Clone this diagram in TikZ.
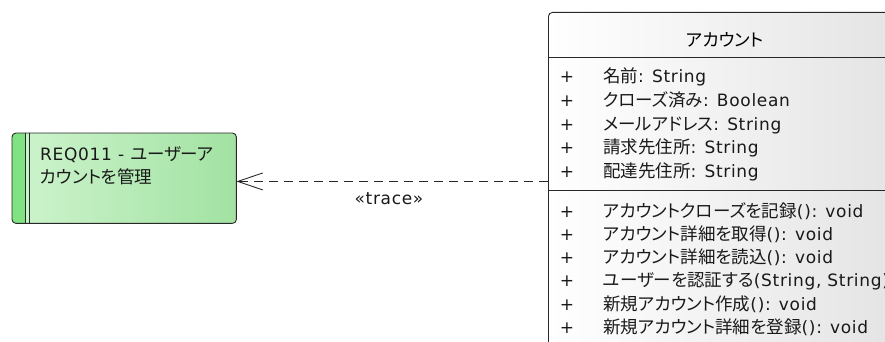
\documentclass[tikz,border=0pt]{standalone}
\usepackage{fontspec}
\setmainfont[LetterSpace=4]{DejaVu Sans}
\newfontfamily\jpfont[RawFeature=+palt]{Noto Sans CJK JP}
\usetikzlibrary{arrows.meta}
\newcommand\jp[1]{{\jpfont\fontsize{17.5}{20}\selectfont #1}}
\newcommand\latsize{\fontsize{17}{20}\selectfont}
\definecolor{reqL}{RGB}{206,244,206}
\definecolor{reqR}{RGB}{162,226,162}
\definecolor{barG}{RGB}{128,226,128}
\definecolor{lineC}{RGB}{40,40,40}
\begin{document}
\begin{tikzpicture}[x=1pt,y=-1pt,
  txt/.style={anchor=base west, inner sep=0pt, font=\latsize, text=black!90},
  plus/.style={anchor=base, inner sep=0pt, font=\latsize, text=black!90},
  border/.style={draw=lineC, line width=0.9pt},
  trace/.style={draw=lineC, line width=0.9pt, dash pattern=on 9pt off 6pt}
]
\useasboundingbox (0,0) rectangle (885,342);
% class box
\node[border, rounded corners=4pt, left color=white, right color=black!11,
      anchor=north west, minimum width=360pt, minimum height=338pt, inner sep=0pt] (cls) at (548,12) {};
\draw[border] (548,57) -- (910,57);
\draw[border] (548,190) -- (910,190);
\node[inner sep=0pt, anchor=base] (title) at (725,46.5) {\jp{アカウント}};
% attributes
\node[plus] (pa1) at (567,83) {+};
\node[txt] (a1) at (603,83) {\jp{名前}: String};
\node[plus] (pa2) at (567,106.5) {+};
\node[txt] (a2) at (603,106.5) {\jp{クローズ済み}: Boolean};
\node[plus] (pa3) at (567,130) {+};
\node[txt] (a3) at (603,130) {\jp{メールアドレス}: String};
\node[plus] (pa4) at (567,153.5) {+};
\node[txt] (a4) at (603,153.5) {\jp{請求先住所}: String};
\node[plus] (pa5) at (567,177) {+};
\node[txt] (a5) at (603,177) {\jp{配達先住所}: String};
% operations
\node[plus] (pm1) at (567,217) {+};
\node[txt] (m1) at (603,217) {\jp{アカウントクローズを記録}(): void};
\node[plus] (pm2) at (567,240.3) {+};
\node[txt] (m2) at (603,240.3) {\jp{アカウント詳細を取得}(): void};
\node[plus] (pm3) at (567,263.6) {+};
\node[txt] (m3) at (603,263.6) {\jp{アカウント詳細を読込}(): void};
\node[plus] (pm4) at (567,286.9) {+};
\node[txt] (m4) at (603,286.9) {\jp{ユーザーを認証する}(String, String)};
\node[plus] (pm5) at (567,310.2) {+};
\node[txt] (m5) at (603,310.2) {\jp{新規アカウント作成}(): void};
\node[plus] (pm6) at (567,333.5) {+};
\node[txt] (m6) at (603,333.5) {\jp{新規アカウント詳細を登録}(): void};
% requirement
\node[rounded corners=4pt, left color=reqL, right color=reqR,
      anchor=north west, minimum width=224pt, minimum height=90pt, inner sep=0pt] (req) at (12,133) {};
\begin{scope}
  \clip[rounded corners=4pt] (12,133) rectangle (236,223);
  \fill[barG] (12,133) rectangle (25.5,223);
\end{scope}
\draw[draw=lineC, line width=1.3pt] (25.5,133) -- (25.5,223);
\draw[draw=lineC, line width=0.8pt] (29.2,133) -- (29.2,223);
\draw[border, rounded corners=4pt] (req.north west) rectangle (req.south east);
\node[txt] (r1) at (40,160) {REQ011 - \jp{ユーザーア}};
\node[txt] (r2) at (40,183.5) {\jp{カウントを管理}};
% trace connector
\draw[trace, -{Straight Barb[length=25pt,width=17pt,line width=0.9pt]}] (cls.west) -- (cls.west -| req.east);
\node[txt, anchor=base] (lbl) at (389,204) {«trace»};
\end{tikzpicture}
\end{document}
